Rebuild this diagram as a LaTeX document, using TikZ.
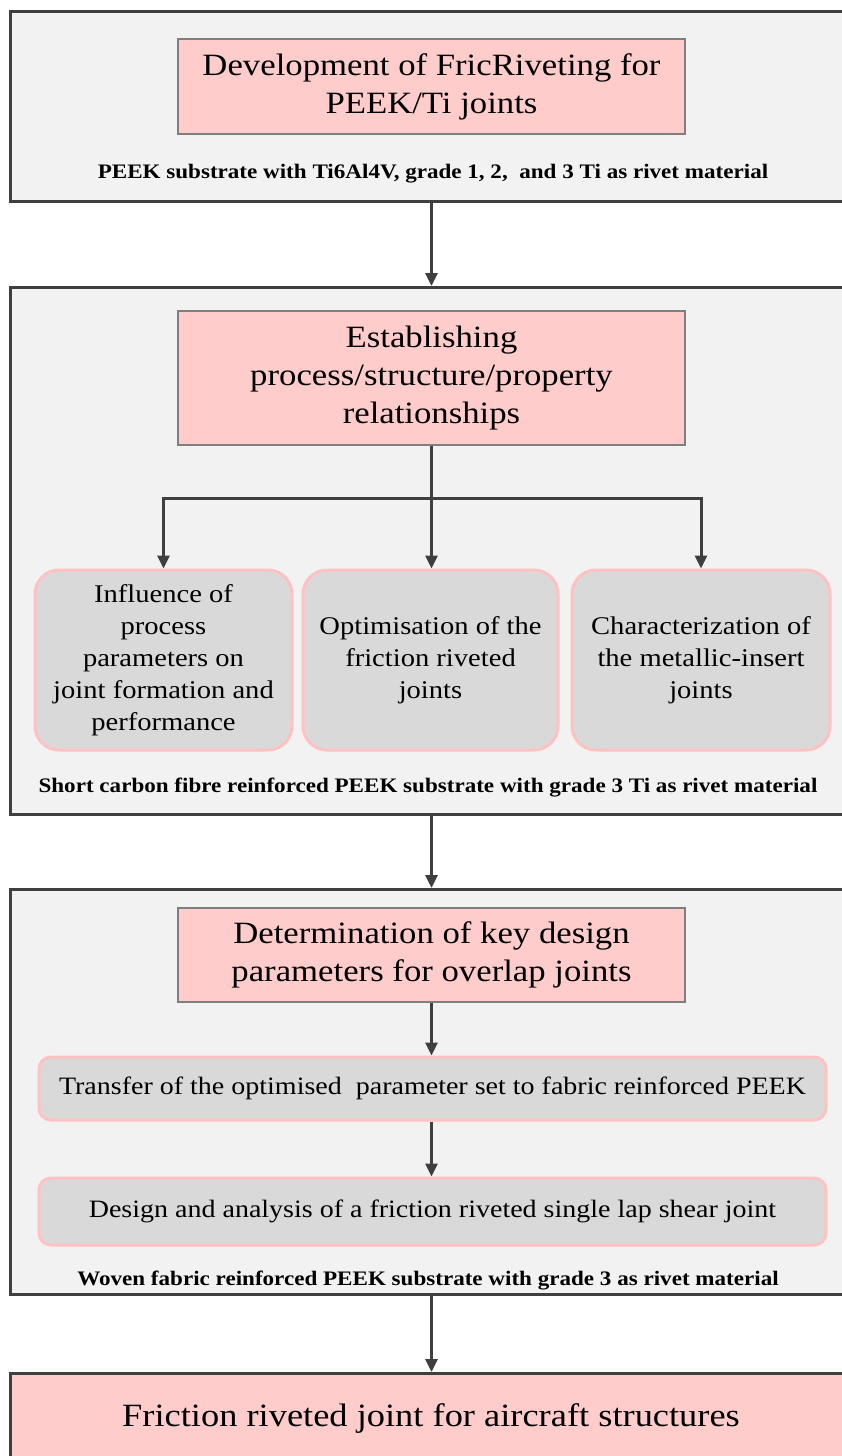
\documentclass[tikz,border=0pt]{standalone}
\usepackage{fontspec}
\setmainfont[FakeStretch=1.12]{Liberation Serif}
\usetikzlibrary{arrows.meta}
\definecolor{outerfill}{HTML}{F2F2F2}
\definecolor{darkline}{HTML}{3F3F3F}
\definecolor{pinkfill}{HTML}{FFCCCC}
\definecolor{pinkedge}{HTML}{FFC2C2}
\definecolor{grayfill}{HTML}{D9D9D9}
\definecolor{pinkframe}{HTML}{7F7F7F}
\tikzset{
  outerbox/.style={draw=darkline, line width=2.5pt, fill=outerfill, anchor=north west, inner sep=0pt},
  finalbox/.style={draw=darkline, line width=2.5pt, fill=pinkfill, anchor=north west, inner sep=0pt},
  titlebox/.style={draw=pinkframe, line width=1.3pt, fill=pinkfill, minimum width=507pt, align=center, inner sep=0pt, font=\fontsize{31}{38}\selectfont},
  roundbox/.style={draw=pinkedge, line width=3pt, fill=grayfill, rounded corners=24pt, align=center, inner sep=0pt, font=\fontsize{25.5}{32}\selectfont},
  widebox/.style={draw=pinkedge, line width=3pt, fill=grayfill, rounded corners=12pt, align=center, inner sep=0pt, minimum width=787pt, font=\fontsize{25}{32}\selectfont},
  caption/.style={font=\bfseries\fontsize{20.6}{24}\selectfont, inner sep=0pt},
  conn/.style={draw=darkline, line width=3pt, -{Triangle[length=13pt,width=12pt]}},
  plainline/.style={draw=darkline, line width=3pt},
}
\begin{document}
\begin{tikzpicture}[x=1pt,y=-1pt]
\useasboundingbox (0,0) rectangle (842,1456);
\clip (0,0) rectangle (842,1456);
\fill[white] (0,0) rectangle (842,1456);

% outer panels
\node[outerbox, minimum width=850pt, minimum height=190pt] (o1) at (9,10) {};
\node[outerbox, minimum width=850pt, minimum height=527pt] (o2) at (9,286) {};
\node[outerbox, minimum width=850pt, minimum height=405pt] (o3) at (9,888) {};
\node[finalbox, minimum width=850pt, minimum height=120pt] (o4) at (9,1372) {};

% panel 1
\node[titlebox, minimum height=95pt] (p1) at (431.5,86.5) {Development of FricRiveting for\\PEEK/Ti joints};
\node[caption] (c1) at (433,174) {PEEK substrate with Ti6Al4V, grade 1, 2,~ and 3 Ti as rivet material};

% panel 2
\node[titlebox, minimum height=134pt] (p2) at (431.5,378) {Establishing\\process/structure/property\\relationships};
\node[roundbox, minimum width=257pt, minimum height=180pt] (r1) at (163.5,660) {Influence of\\process\\parameters on\\joint formation and\\performance};
\node[roundbox, minimum width=255pt, minimum height=180pt] (r2) at (430.5,660) {Optimisation of the\\friction riveted\\joints};
\node[roundbox, minimum width=258pt, minimum height=180pt] (r3) at (701,660) {Characterization of\\the metallic-insert\\joints};
\node[caption] (c2) at (428,788) {Short carbon fibre reinforced PEEK substrate with grade 3 Ti as rivet material};

% panel 3
\node[titlebox, minimum height=94pt] (p3) at (431.5,955) {Determination of key design\\parameters for overlap joints};
\node[widebox, minimum height=63pt] (t1) at (432.5,1088.5) {Transfer of the optimised~ parameter set to fabric reinforced PEEK};
\node[widebox, minimum height=67pt] (d1) at (432.5,1211.5) {Design and analysis of a friction riveted single lap shear joint};
\node[caption] (c3) at (428,1281) {Woven fabric reinforced PEEK substrate with grade 3 as rivet material};

% final
\node[font=\fontsize{32.5}{38}\selectfont, inner sep=0pt] (f1) at (431,1418) {Friction riveted joint for aircraft structures};

% connectors
\draw[conn] (p1.south |- o1.south) -- (p1.south |- o2.north);
\path (p2.south) ++(0,53) coordinate (br);
\draw[plainline] (p2.south) -- (br);
\draw[conn] (br) -- (br |- r2.north);
\draw[conn] (br) -| (r1.north);
\draw[conn] (br) -| (r3.north);
\draw[conn] (p2.south |- o2.south) -- (p2.south |- o3.north);
\draw[conn] (p3.south) -- (p3.south |- t1.north);
\draw[conn] (p3.south |- t1.south) -- (p3.south |- d1.north);
\draw[conn] (p3.south |- o3.south) -- (p3.south |- o4.north);
\end{tikzpicture}
\end{document}
